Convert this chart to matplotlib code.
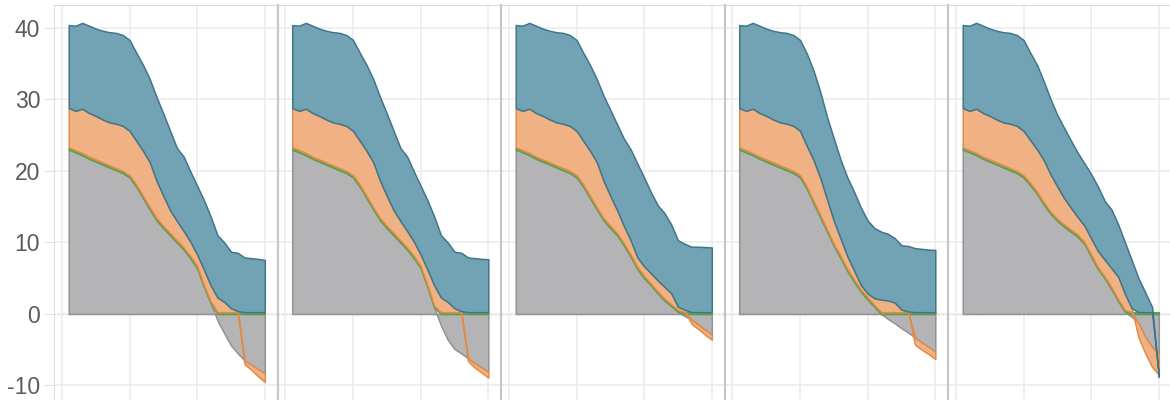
import matplotlib.pyplot as plt
import numpy as np

days = list(range(1, 31))

# one row per panel, one value per day; stacked with a diverging offset
gray = [
    [23.0, 22.6, 22.2, 21.7, 21.3, 20.9, 20.5, 20.1, 19.7, 19.1, 17.8, 16.2, 14.6, 13.1, 12.0,
     11.0, 10.0, 9.0, 7.8, 6.4, 3.8, 1.5, -0.9, -2.7, -4.4, -5.5, -6.5, -7.1, -7.7, -8.3],
    [23.0, 22.6, 22.2, 21.7, 21.3, 20.9, 20.5, 20.1, 19.7, 19.1, 17.8, 16.2, 14.6, 13.1, 12.0,
     11.0, 10.0, 9.0, 7.8, 6.4, 3.8, 0.9, -1.6, -3.6, -4.9, -5.5, -6.2, -6.9, -7.5, -8.1],
    [23.0, 22.6, 22.2, 21.7, 21.3, 20.9, 20.5, 20.1, 19.7, 19.1, 17.8, 16.2, 14.6, 13.1, 12.0,
     11.0, 9.6, 8.0, 6.3, 5.0, 4.0, 2.9, 1.9, 1.1, 0.3, -0.3, -0.8, -1.5, -2.2, -2.9],
    [23.0, 22.6, 22.2, 21.7, 21.3, 20.9, 20.5, 20.1, 19.7, 19.1, 17.5, 15.5, 13.5, 11.5, 9.5,
     7.8, 6.0, 4.5, 3.1, 2.0, 1.0, 0.0, -0.7, -1.3, -2.0, -2.6, -3.3, -4.0, -4.6, -5.3],
    [23.0, 22.6, 22.2, 21.7, 21.3, 20.9, 20.5, 20.1, 19.7, 19.1, 18.0, 16.8, 15.3, 14.0, 13.0,
     12.2, 11.5, 10.8, 9.8, 8.0, 6.3, 5.0, 3.5, 1.8, 0.3, -0.4, -1.3, -3.2, -4.6, -5.7],
]

green = [
    [0.3, 0.3, 0.3, 0.3, 0.3, 0.3, 0.3, 0.3, 0.3, 0.3, 0.3, 0.3, 0.3, 0.3, 0.3,
     0.3, 0.3, 0.3, 0.3, 0.3, 0.25, 0.25, 0.25, 0.25, 0.25, 0.25, 0.25, 0.25, 0.25, 0.25],
] * 5

orange = [
    [5.5, 5.5, 6.2, 6.1, 6.1, 6.0, 6.0, 6.2, 6.3, 6.2, 6.1, 6.3, 6.3, 5.2, 4.2,
     3.2, 2.7, 2.3, 2.0, 1.6, 2.15, 2.25, 2.05, 1.45, 0.55, 0.15, -0.5, -0.7, -1.0, -1.2],
    [5.5, 5.5, 6.2, 6.1, 6.1, 6.0, 6.0, 6.2, 6.3, 6.2, 6.1, 6.3, 6.3, 5.2, 4.2,
     3.2, 2.7, 2.3, 2.0, 1.6, 2.15, 2.85, 2.05, 1.45, 0.55, 0.15, -0.4, -0.6, -0.7, -0.8],
    [5.5, 5.5, 6.2, 6.1, 6.1, 6.0, 6.0, 6.2, 6.3, 6.2, 6.1, 6.3, 6.3, 5.2, 4.2,
     3.2, 2.4, 2.0, 1.3, 1.35, 1.45, 1.55, 1.65, 1.55, 0.45, 0.35, -0.6, -0.6, -0.7, -0.7],
    [5.5, 5.5, 6.2, 6.1, 6.1, 6.0, 6.0, 6.2, 6.3, 6.2, 5.7, 5.7, 5.2, 4.2, 3.2,
     2.45, 1.75, 1.25, 0.65, 0.55, 0.95, 1.75, 1.65, 1.35, 0.35, 0.1, -1.0, -1.0, -1.0, -1.0],
    [5.5, 5.5, 6.2, 6.1, 6.1, 6.0, 6.0, 6.2, 6.3, 6.2, 6.0, 5.9, 5.9, 5.2, 4.5,
     3.7, 3.05, 2.45, 2.25, 2.25, 2.25, 2.35, 2.65, 3.15, 2.25, 0.55, -2.0, -2.3, -2.8, -2.8],
]

blue = [
    [11.6, 11.9, 12.0, 12.2, 12.2, 12.4, 12.6, 12.7, 12.7, 12.7, 12.3, 12.0, 11.6, 11.7, 11.5,
     11.1, 10.2, 10.4, 9.8, 9.6, 9.7, 9.6, 8.7, 8.3, 7.9, 8.15, 7.65, 7.55, 7.45, 7.3],
    [11.6, 11.9, 12.0, 12.2, 12.2, 12.4, 12.6, 12.7, 12.7, 12.7, 12.3, 12.0, 11.6, 11.7, 11.5,
     11.1, 10.2, 10.4, 9.8, 9.6, 9.7, 9.6, 8.7, 8.3, 7.9, 8.15, 7.65, 7.55, 7.45, 7.4],
    [11.6, 11.9, 12.0, 12.2, 12.2, 12.4, 12.6, 12.7, 12.7, 12.7, 12.3, 12.0, 11.6, 11.9, 12.0,
     12.0, 12.2, 12.7, 13.1, 12.4, 11.3, 10.5, 10.3, 9.6, 9.3, 9.2, 9.15, 9.15, 9.1, 9.05],
    [11.6, 11.9, 12.0, 12.2, 12.2, 12.4, 12.6, 12.7, 12.7, 12.7, 12.9, 12.5, 12.0, 11.5, 11.5,
     11.0, 11.0, 11.0, 10.8, 10.2, 9.8, 9.5, 9.3, 9.0, 9.0, 9.15, 8.95, 8.85, 8.75, 8.7],
    [11.6, 11.9, 12.0, 12.2, 12.2, 12.4, 12.6, 12.7, 12.7, 12.7, 12.2, 11.8, 11.0, 10.5, 10.0,
     9.8, 9.4, 9.0, 8.7, 9.0, 9.0, 8.2, 8.2, 7.3, 7.2, 6.7, 4.75, 2.75, 0.75, -0.3],
]

# (fill, edge) per layer, bottom to top
styles = [
    ('#b4b4b7', '#929296'),
    ('#86b673', '#5c9e48'),
    ('#f0b284', '#e38b45'),
    ('#72a3b4', '#3f7689'),
]

GRID = '#ececec'


def diverging_stack(layers):
    """Return (y0, y1) per layer, positives stacked up and negatives down."""
    pos = np.zeros(len(days))
    neg = np.zeros(len(days))
    out = []
    for vals in layers:
        v = np.asarray(vals, dtype=float)
        base = np.where(v >= 0, pos, neg)
        top = base + v
        pos = np.where(v >= 0, top, pos)
        neg = np.where(v < 0, top, neg)
        out.append((base, top))
    return out


plt.rcParams['font.family'] = ['Liberation Sans', 'DejaVu Sans']

fig = plt.figure(figsize=(11.7, 4.0), dpi=100)
fig_w, fig_h = 1170.0, 400.0
panel_w = 223.5
left0 = 54.0
top_px = 5.0

for p in range(5):
    ax = fig.add_axes([(left0 + p * panel_w) / fig_w, 0.0,
                       panel_w / fig_w, (fig_h - top_px) / fig_h])
    ax.set_xlim(-1.18, 31.88)
    ax.set_ylim(-12.03, 43.2)

    ax.set_xticks([0, 10, 20, 30])
    ax.set_yticks([-10, 0, 10, 20, 30, 40])
    ax.grid(True, color=GRID, linewidth=1.2, zorder=0)
    ax.set_axisbelow(True)
    ax.axhline(0, color='#a8a8a8', linewidth=1, linestyle=(0, (1, 2)), zorder=0.5)

    stacked = diverging_stack([gray[p], green[p], orange[p], blue[p]])
    for (y0, y1), (fc, ec) in zip(stacked, styles):
        ax.fill_between(days, y0, y1, facecolor=fc, edgecolor=ec,
                        linewidth=1.1, zorder=2)

    for side in ('right', 'bottom'):
        ax.spines[side].set_visible(False)
    ax.spines['top'].set_color('#dddddd')
    if p == 0:
        ax.spines['left'].set_color('#dddddd')
        ax.tick_params(axis='y', length=7, color='#e2e2e2', pad=3,
                       labelsize=16.5, labelcolor='#5a5a5a')
        ax.set_yticklabels(['-10', '0', '10', '20', '30', '40'])
    else:
        ax.spines['left'].set_color('#c6c6c6')
        ax.spines['left'].set_linewidth(1.6)
        ax.tick_params(axis='y', length=0, labelleft=False)
    ax.tick_params(axis='x', length=0, labelbottom=False)

fig.savefig('out.png', dpi=100)
